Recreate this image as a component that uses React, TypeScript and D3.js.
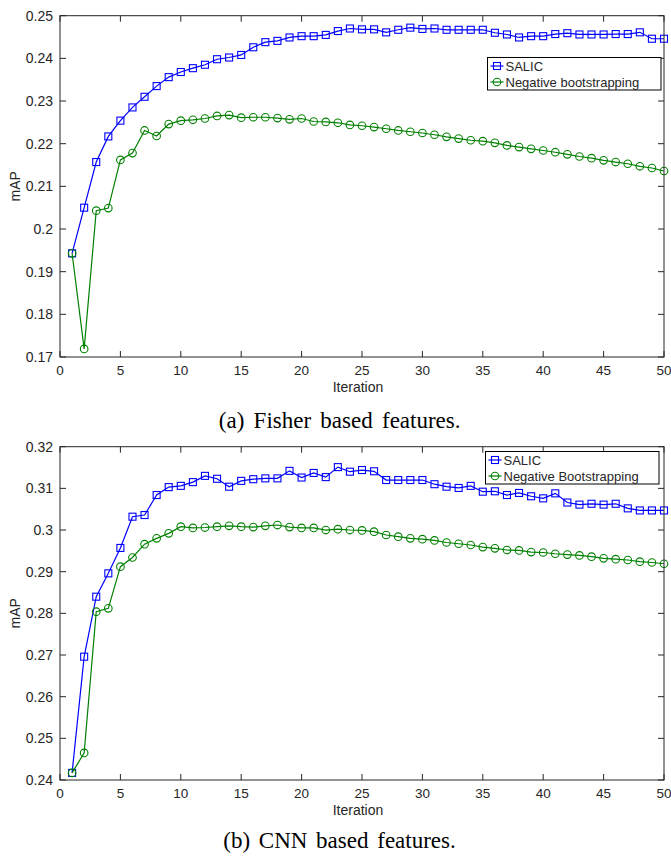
import React from "react";
import * as d3 from "d3";

const iterations = d3.range(1, 51);

const fisherSalic = [
  0.1943, 0.2050, 0.2157, 0.2217, 0.2254, 0.2285, 0.2310, 0.2335, 0.2356, 0.2368,
  0.2377, 0.2385, 0.2398, 0.2402, 0.2408, 0.2426, 0.2438, 0.2441, 0.2449, 0.2452,
  0.2452, 0.2455, 0.2464, 0.2470, 0.2468, 0.2468, 0.2461, 0.2467, 0.2472, 0.2469,
  0.2470, 0.2467, 0.2467, 0.2467, 0.2467, 0.2460, 0.2456, 0.2449, 0.2452, 0.2452,
  0.2457, 0.2459, 0.2456, 0.2456, 0.2456, 0.2457, 0.2457, 0.2461, 0.2446, 0.2446,
];
const fisherNeg = [
  0.1943, 0.1719, 0.2043, 0.2049, 0.2162, 0.2178, 0.2231, 0.2218, 0.2246, 0.2254,
  0.2256, 0.2259, 0.2265, 0.2267, 0.2261, 0.2262, 0.2262, 0.2260, 0.2257, 0.2259,
  0.2252, 0.2251, 0.2249, 0.2244, 0.2242, 0.2239, 0.2235, 0.2231, 0.2228, 0.2225,
  0.2221, 0.2216, 0.2212, 0.2208, 0.2206, 0.2202, 0.2196, 0.2192, 0.2188, 0.2184,
  0.2180, 0.2175, 0.2170, 0.2166, 0.2161, 0.2157, 0.2153, 0.2147, 0.2143, 0.2136,
];
const cnnSalic = [
  0.2417, 0.2696, 0.2840, 0.2896, 0.2957, 0.3032, 0.3036, 0.3084, 0.3103, 0.3106,
  0.3115, 0.3130, 0.3123, 0.3104, 0.3118, 0.3122, 0.3124, 0.3124, 0.3142, 0.3126,
  0.3137, 0.3127, 0.3151, 0.3140, 0.3144, 0.3141, 0.3120, 0.3120, 0.3120, 0.3120,
  0.3110, 0.3104, 0.3101, 0.3106, 0.3092, 0.3093, 0.3084, 0.3089, 0.3081, 0.3076,
  0.3088, 0.3066, 0.3061, 0.3063, 0.3061, 0.3063, 0.3052, 0.3047, 0.3047, 0.3047,
];
const cnnNeg = [
  0.2417, 0.2465, 0.2804, 0.2812, 0.2912, 0.2934, 0.2966, 0.2980, 0.2992, 0.3008,
  0.3005, 0.3006, 0.3008, 0.3010, 0.3008, 0.3007, 0.3010, 0.3012, 0.3007, 0.3005,
  0.3005, 0.3000, 0.3002, 0.3000, 0.2999, 0.2996, 0.2988, 0.2984, 0.2980, 0.2978,
  0.2975, 0.2970, 0.2967, 0.2964, 0.2959, 0.2956, 0.2952, 0.2951, 0.2947, 0.2946,
  0.2943, 0.2941, 0.2939, 0.2936, 0.2932, 0.2930, 0.2928, 0.2924, 0.2922, 0.2919,
];

const xTicks = [0, 5, 10, 15, 20, 25, 30, 35, 40, 45, 50];
const fisherYTicks = [0.17, 0.18, 0.19, 0.2, 0.21, 0.22, 0.23, 0.24, 0.25];
const cnnYTicks = [0.24, 0.25, 0.26, 0.27, 0.28, 0.29, 0.3, 0.31, 0.32];

const fisherLegend = ["SALIC", "Negative bootstrapping"];
const cnnLegend = ["SALIC", "Negative Bootstrapping"];
const captions = ["(a) Fisher based features.", "(b) CNN based features."];

const AX = "#262626";
const BLUE = "#0000ff";
const GREEN = "#008000";
const SANS = "'Liberation Sans', Arial, Helvetica, sans-serif";
const SERIF = "'Liberation Serif', 'Times New Roman', serif";

type PanelProps = {
  top: number;
  bottom: number;
  yDomain: [number, number];
  yTicks: number[];
  s1: number[];
  s2: number[];
  legend: string[];
  legendBox: { x: number; y: number; w: number; h: number };
  caption: string;
  captionY: number;
  captionX: number;
  wordSpacing: number;
};

function Panel(p: PanelProps) {
  const left = 60;
  const right = 664;
  const x = d3.scaleLinear().domain([0, 50]).range([left, right]);
  const y = d3.scaleLinear().domain(p.yDomain).range([p.bottom, p.top]);
  const line = d3
    .line<number>()
    .x((_, i) => x(iterations[i]))
    .y((d) => y(d));
  const tl = 6;
  const fmt = (v: number) => {
    const s = d3.format(".2f")(v);
    return s.replace(/0$/, "");
  };
  const sq = 3.5;
  const r = 3.8;
  const lb = p.legendBox;
  return (
    <g>
      <path d={line(p.s1) || ""} fill="none" stroke={BLUE} strokeWidth={1.2} />
      {p.s1.map((v, i) => (
        <rect
          key={"s" + i}
          x={x(iterations[i]) - sq}
          y={y(v) - sq}
          width={sq * 2}
          height={sq * 2}
          fill="none"
          stroke={BLUE}
          strokeWidth={1.1}
        />
      ))}
      <path d={line(p.s2) || ""} fill="none" stroke={GREEN} strokeWidth={1.2} />
      {p.s2.map((v, i) => (
        <circle
          key={"c" + i}
          cx={x(iterations[i])}
          cy={y(v)}
          r={r}
          fill="none"
          stroke={GREEN}
          strokeWidth={1.1}
        />
      ))}
      <rect
        x={left}
        y={p.top}
        width={right - left}
        height={p.bottom - p.top}
        fill="none"
        stroke={AX}
        strokeWidth={1}
      />
      {xTicks.map((t) => (
        <g key={"xt" + t}>
          <line x1={x(t)} x2={x(t)} y1={p.bottom} y2={p.bottom - tl} stroke={AX} />
          <line x1={x(t)} x2={x(t)} y1={p.top} y2={p.top + tl} stroke={AX} />
          <text
            x={x(t)}
            y={p.bottom + 18}
            textAnchor="middle"
            fontFamily={SANS}
            fontSize={13.5}
            fill={AX}
          >
            {t}
          </text>
        </g>
      ))}
      {p.yTicks.map((t) => (
        <g key={"yt" + t}>
          <line x1={left} x2={left + tl} y1={y(t)} y2={y(t)} stroke={AX} />
          <line x1={right} x2={right - tl} y1={y(t)} y2={y(t)} stroke={AX} />
          <text
            x={left - 7}
            y={y(t) + 5}
            textAnchor="end"
            fontFamily={SANS}
            fontSize={14}
            fill={AX}
          >
            {fmt(t)}
          </text>
        </g>
      ))}
      <text
        x={358}
        y={p.bottom + 35}
        textAnchor="middle"
        fontFamily={SANS}
        fontSize={14}
        fill={AX}
      >
        Iteration
      </text>
      <text
        transform={`translate(20,${(p.top + p.bottom) / 2}) rotate(-90)`}
        textAnchor="middle"
        fontFamily={SANS}
        fontSize={14}
        fill={AX}
      >
        mAP
      </text>
      <rect x={lb.x} y={lb.y} width={lb.w} height={lb.h} fill="#fff" stroke="#000" strokeWidth={1} />
      <line x1={lb.x + 3} x2={lb.x + 16} y1={lb.y + 8.5} y2={lb.y + 8.5} stroke={BLUE} strokeWidth={1.2} />
      <rect
        x={lb.x + 9.5 - sq}
        y={lb.y + 8.5 - sq}
        width={sq * 2}
        height={sq * 2}
        fill="none"
        stroke={BLUE}
        strokeWidth={1.1}
      />
      <text x={lb.x + 18} y={lb.y + 13} fontFamily={SANS} fontSize={13} fill={AX}>
        {p.legend[0]}
      </text>
      <line x1={lb.x + 3} x2={lb.x + 16} y1={lb.y + 24.5} y2={lb.y + 24.5} stroke={GREEN} strokeWidth={1.2} />
      <circle cx={lb.x + 9.5} cy={lb.y + 24.5} r={r} fill="none" stroke={GREEN} strokeWidth={1.1} />
      <text x={lb.x + 18} y={lb.y + 29} fontFamily={SANS} fontSize={13} fill={AX}>
        {p.legend[1]}
      </text>
      <text
        x={p.captionX}
        y={p.captionY}
        textAnchor="middle"
        fontFamily={SERIF}
        fontSize={23}
        fill="#000"
        style={{ wordSpacing: `${p.wordSpacing}px` }}
      >
        {p.caption}
      </text>
    </g>
  );
}

export default function App() {
  return (
    <svg
      width={671}
      height={857}
      style={{ position: "absolute", left: 0, top: 0, background: "#fff" }}
    >
      <rect x={0} y={0} width={671} height={857} fill="#fff" />
      <Panel
        top={15.7}
        bottom={357}
        yDomain={[0.17, 0.25]}
        yTicks={fisherYTicks}
        s1={fisherSalic}
        s2={fisherNeg}
        legend={fisherLegend}
        legendBox={{ x: 487.5, y: 57.5, w: 173.5, h: 32.5 }}
        caption={captions[0]}
        captionY={428}
        captionX={339.7}
        wordSpacing={3.5}
      />
      <Panel
        top={446.7}
        bottom={780}
        yDomain={[0.24, 0.32]}
        yTicks={cnnYTicks}
        s1={cnnSalic}
        s2={cnnNeg}
        legend={cnnLegend}
        legendBox={{ x: 485.5, y: 451.5, w: 173.5, h: 32.5 }}
        caption={captions[1]}
        captionY={848}
        captionX={339.5}
        wordSpacing={3}
      />
    </svg>
  );
}
